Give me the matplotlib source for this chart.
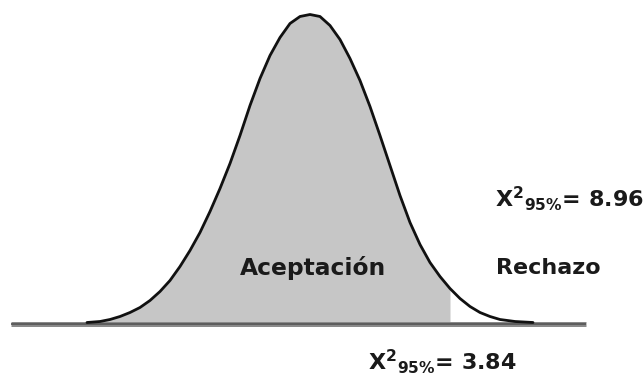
import matplotlib
matplotlib.use("Agg")
import matplotlib.pyplot as plt

# Curve (horizontal position, height above baseline)
curve_x = [87, 100, 110, 120, 130, 140, 150, 160, 170, 180, 190, 200, 210, 220,
           230, 240, 250, 260, 270, 280, 290, 300, 310,
           320, 330, 340, 350, 360, 370, 380, 390, 400, 410, 420, 430, 440,
           450, 460, 470, 480, 490, 500, 515, 533]
curve_h = [1, 2, 4, 7, 11, 16, 23, 32, 43, 57, 73, 91, 112, 135,
           160, 188, 218, 245, 268, 286, 300, 307, 309,
           307, 298, 284, 265, 243, 217, 188, 158, 128, 101, 79, 61, 47,
           35, 25, 17, 11, 7, 4, 2, 1]
critical_x = 450          # end of the acceptance (shaded) region
baseline_x = [11, 586]

label_accept = "Aceptación"
label_reject = "Rechazo"
chi_upper = "8.96"
chi_lower = "3.84"

FONT = 'DejaVu Sans'
plt.rcParams['mathtext.fontset'] = 'custom'
plt.rcParams['mathtext.rm'] = FONT + ':bold'
plt.rcParams['mathtext.it'] = FONT + ':bold'
plt.rcParams['mathtext.bf'] = FONT + ':bold'

fig = plt.figure(figsize=(6.44, 3.81), dpi=100)
ax = fig.add_axes([0, 0, 1, 1])
ax.set_xlim(0, 644)
ax.set_ylim(-57.5, 323.5)
ax.axis('off')

# shaded acceptance region
sx = [x for x in curve_x if x <= critical_x]
sh = curve_h[:len(sx)]
ax.fill_between(sx, 0, sh, color='#c6c6c6', lw=0, zorder=1)

# baseline
ax.plot(baseline_x, [0, 0], color='#8a8a8a', lw=3.6, solid_capstyle='butt', zorder=2)
ax.plot(baseline_x, [0, 0], color='#555555', lw=1.2, solid_capstyle='butt', zorder=2)

# curve
ax.plot(curve_x, curve_h, color='#111111', lw=2.0, zorder=3,
        solid_joinstyle='round', solid_capstyle='round')

fs = 16
tc = '#1a1a1a'
ax.text(313, 49, label_accept, ha='center', va='baseline', fontsize=16.8,
        family=FONT, weight='bold', color=tc)
ax.text(496, 49, label_reject, ha='left', va='baseline', fontsize=fs,
        family=FONT, weight='bold', color=tc)
ax.text(495, 117, r"$\mathrm{X}^{2}{}_{95\%}$= " + chi_upper, ha='left', va='baseline',
        fontsize=fs, family=FONT, weight='bold', color=tc)
ax.text(368, -46, r"$\mathrm{X}^{2}{}_{95\%}$= " + chi_lower, ha='left', va='baseline',
        fontsize=fs, family=FONT, weight='bold', color=tc)

fig.savefig("out.png", dpi=100)
